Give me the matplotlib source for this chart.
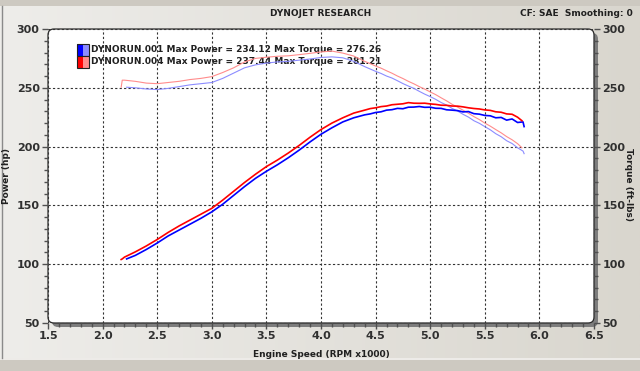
import numpy as np
import matplotlib
matplotlib.use("Agg")
from matplotlib import pyplot as plt
from matplotlib.patches import FancyBboxPatch, Rectangle
from matplotlib.colors import LinearSegmentedColormap
from matplotlib.ticker import MultipleLocator, FormatStrFormatter

# run 001 (blue)
rpm_001 = [2.22, 2.3, 2.4, 2.5, 2.6, 2.7, 2.8, 2.9, 3.0, 3.1, 3.2, 3.3, 3.4,
           3.5, 3.6, 3.7, 3.8, 3.9, 4.0, 4.1, 4.2, 4.3,
           4.4, 4.45, 4.5, 4.55, 4.6, 4.65, 4.7, 4.75, 4.8, 4.85, 4.9, 4.95,
           5.0, 5.05, 5.1, 5.15, 5.2, 5.25, 5.3, 5.35, 5.4, 5.45, 5.5, 5.55,
           5.6, 5.65, 5.7, 5.75, 5.8, 5.85, 5.86]
hp_001 = [104.5, 107.5, 112.5, 118, 124, 129, 134, 139, 144.5, 151, 158.5,
          166, 173, 179, 184.5, 190.5, 197, 204, 210.5, 216, 221, 224.5,
          227, 227.8, 229, 229.6, 231, 231.4, 232.5, 232.2, 233.5, 233.6,
          234.1, 233.4, 233.5, 232.6, 232.5, 231.3, 231, 230.6, 229.5, 229.8,
          228, 227.6, 226.5, 226.2, 224.5, 224.8, 222.5, 223.5, 220.5, 221,
          217]
tq_001 = [250.5, 250, 249, 248.5, 249.5, 251, 252.5, 253.5, 254.5, 258, 262.5,
          267, 269.5, 271, 272, 272.5, 273.5, 274.5, 275.8, 276.3, 275.5,
          272.5,
          268, 266, 264, 262.2, 260, 258.3, 256, 253.6, 251.5, 249.5, 247,
          244.6, 242.5, 240.2, 237.5, 235.3, 232.5, 230.3, 227.5, 225.1, 222,
          219.8, 217, 214.3, 211, 208.4, 205, 202.6, 199, 196.2, 194]

# run 004 (red)
rpm_004 = [2.17, 2.18, 2.2, 2.3, 2.4, 2.5, 2.6, 2.7, 2.8, 2.9, 3.0, 3.1, 3.2,
           3.3, 3.4, 3.5, 3.6, 3.7, 3.8, 3.9, 4.0, 4.1, 4.2, 4.3,
           4.4, 4.45, 4.5, 4.55, 4.6, 4.65, 4.7, 4.75, 4.8, 4.85, 4.9, 4.95,
           5.0, 5.05, 5.1, 5.15, 5.2, 5.25, 5.3, 5.35, 5.4, 5.45, 5.5, 5.55,
           5.6, 5.65, 5.7, 5.75, 5.8, 5.84]
hp_004 = [104, 104.5, 106, 110.5, 115.5, 121, 127, 132.5, 137.5, 142.5, 147.5,
          154.5, 162, 169.5, 176.5, 183, 188.5, 194.5, 201, 208, 214.5, 220,
          224.5, 228.5,
          231, 232.3, 233, 234, 234.5, 235.6, 236, 236.4, 237.4, 236.9, 236.8,
          236.9, 236.3, 235.9, 235.2, 235.1, 234.5, 234.4, 233.8, 233.0,
          232.4, 232.0, 231.2, 230.8, 229.6, 229.2, 227.8, 227.5, 225, 222]
tq_004 = [250.5, 256.5, 256.5, 255.5, 254, 253.5, 254.5, 255.5, 257, 258,
          259.5, 263, 267, 272, 275, 276, 276.8, 277.2, 278.2, 279.3, 280.5,
          281.2, 279.5, 277,
          272.5, 270.6, 268.5, 266.7, 264.5, 262.4, 260, 257.9, 255.5, 253.4,
          251, 248.9, 246.5, 244.2, 241.5, 238.9, 236, 233.6, 231, 228.4,
          225.5, 223, 220, 217.4, 214.5, 211.7, 208.5, 205.8, 202.5, 199]

legend_lines = ["DYNORUN.001 Max Power = 234.12 Max Torque = 276.26",
                "DYNORUN.004 Max Power = 237.44 Max Torque = 281.21"]

W, H = 640, 371
fig = plt.figure(figsize=(6.4, 3.71), dpi=100)

# background panel in pixel coords
bg = fig.add_axes([0, 0, 1, 1])
bg.set_xlim(0, W)
bg.set_ylim(H, 0)
bg.axis('off')
grad_cmap = LinearSegmentedColormap.from_list('g', ['#eeedea', '#d9d6ce'])
bg.imshow(np.linspace(0, 1, 256).reshape(1, -1), cmap=grad_cmap,
          extent=[0, W, H, 0], aspect='auto')
bg.add_patch(Rectangle((0, 0), W, 6, fc='#cdc9c1', ec='none'))
bg.add_patch(Rectangle((0, 358), W, 13, fc='#cdc9c1', ec='none'))
bg.plot([0, W], [358.5, 358.5], color='#f4f3f0', lw=1.2)
bg.plot([1.5, 1.5], [6, 358], color='#8a8a8a', lw=1)
bg.add_patch(FancyBboxPatch((52, 33), 546, 294,
                            boxstyle="round,pad=0,rounding_size=6",
                            fc='#7d7d7d', ec='none'))
bg.add_patch(FancyBboxPatch((48, 29), 546, 294,
                            boxstyle="round,pad=0,rounding_size=6",
                            fc='white', ec='#2a2a2a', lw=0.9))

bg.text(321, 14, "DYNOJET RESEARCH", ha='center', va='center',
        fontsize=6.5, fontweight='bold', color='#202020')
bg.text(633, 14, "CF: SAE  Smoothing: 0", ha='right', va='center',
        fontsize=6.5, fontweight='bold', color='#202020')

# main chart
ax = fig.add_axes([48 / W, 1 - 323 / H, 546 / W, 294 / H])
ax.patch.set_alpha(0)
for s in ax.spines.values():
    s.set_visible(False)
ax.set_xlim(1.5, 6.5)
ax.set_ylim(50, 300)

ax.plot(rpm_001, tq_001, color='#8c8cff', lw=0.8)
ax.plot(rpm_004, tq_004, color='#ff8c8c', lw=0.8)
ax.plot(rpm_001, hp_001, color='#0000ff', lw=1.2)
ax.plot(rpm_004, hp_004, color='#ff0000', lw=1.2)

ax.xaxis.set_major_locator(MultipleLocator(0.5))
ax.xaxis.set_minor_locator(MultipleLocator(0.1))
ax.yaxis.set_major_locator(MultipleLocator(50))
ax.yaxis.set_minor_locator(MultipleLocator(10))
ax.xaxis.set_major_formatter(FormatStrFormatter('%.1f'))
ax.grid(True, which='major', linestyle=(0, (2, 2)), color='#333333', lw=0.8)
ax.tick_params(which='both', direction='out', color='#505050', width=1,
               labelsize=8, labelcolor='#303030', right=True, labelright=True)
ax.tick_params(which='major', length=4, pad=2)
ax.tick_params(which='minor', length=3)
for t in ax.xaxis.get_majorticklabels() + ax.yaxis.get_majorticklabels():
    t.set_fontweight('bold')

ax.set_xlabel("Engine Speed (RPM x1000)", fontsize=6.5, fontweight='bold',
              color='#202020', labelpad=6)
ax.set_ylabel("Power (hp)", fontsize=6.5, fontweight='bold', color='#202020',
              labelpad=4)
fig.text(628 / W, 1 - 185 / H, "Torque (ft-lbs)", rotation=-90, ha='center',
         va='center', fontsize=6.5, fontweight='bold', color='#202020')

# legend squares and text
for i, (dark, light) in enumerate([('#0000ff', '#8c8cff'), ('#ff0000', '#ff8c8c')]):
    y0 = 44 + i * 12
    bg.add_patch(Rectangle((77, y0), 6, 12, fc=dark, ec='none'))
    bg.add_patch(Rectangle((83, y0), 6, 12, fc=light, ec='none'))
    bg.add_patch(Rectangle((77, y0), 12, 12, fc='none', ec='#202020', lw=0.8))
    bg.text(91, y0 + 6, legend_lines[i], ha='left', va='center',
            fontsize=6.5, fontweight='bold', color='#202020', zorder=5)

fig.savefig("out.png", dpi=100)
